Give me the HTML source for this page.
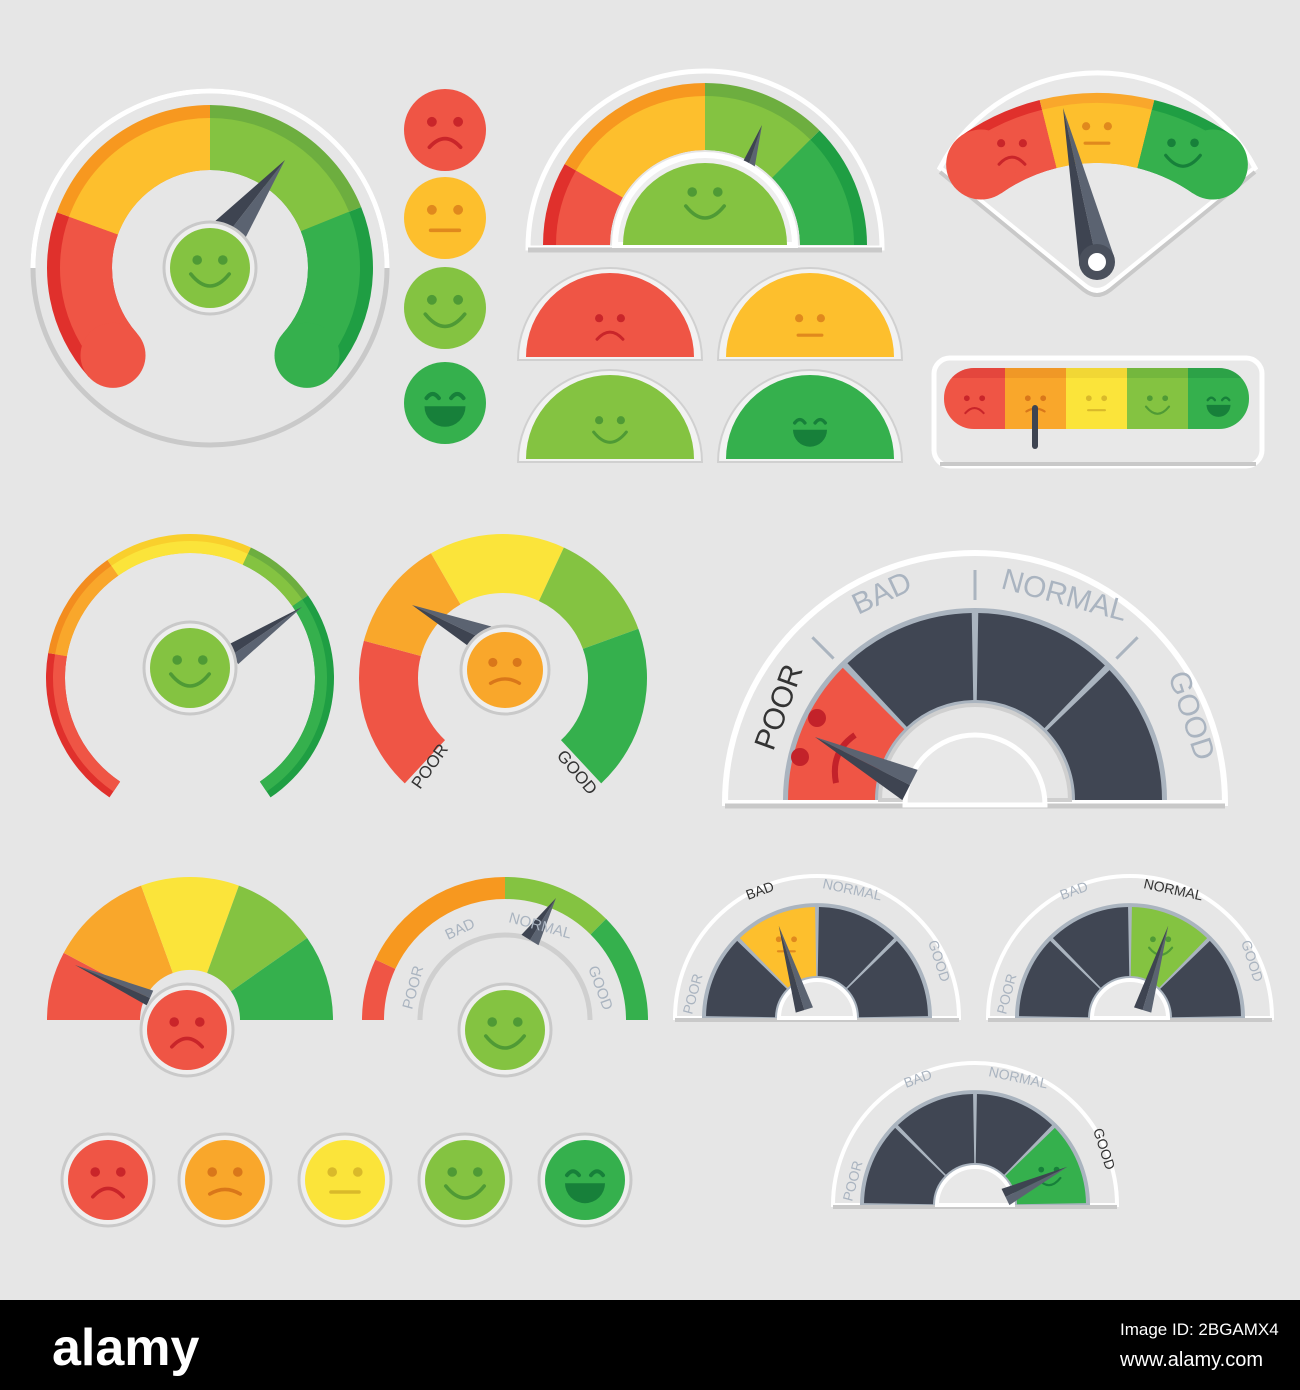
<!DOCTYPE html>
<html><head><meta charset="utf-8">
<style>
html,body{margin:0;padding:0;background:#e6e6e6;}
svg{display:block}
.lbl{font-family:"Liberation Sans Narrow","Liberation Sans",sans-serif;fill:#aab4c0}
</style></head>
<body>
<svg id="s" width="1300" height="1390" viewBox="0 0 1300 1390" xmlns="http://www.w3.org/2000/svg">
<defs><clipPath id="bcp"><rect x="944" y="368" width="305" height="61" rx="30"/></clipPath></defs>
<rect width="1300" height="1390" fill="#e6e6e6"/>
<g id="shapes"></g>
<g id="texts">
 <text class="lbl" font-size="30" fill="#333" style="fill:#333" transform="translate(773,752) rotate(-70)">POOR</text>
 <text class="lbl" font-size="30" transform="translate(858,615) rotate(-25)">BAD</text>
 <text class="lbl" font-size="30" transform="translate(1000,588) rotate(15)">NORMAL</text>
 <text class="lbl" font-size="30" transform="translate(1168,675) rotate(72)">GOOD</text>
 <text font-family="Liberation Sans Narrow,Liberation Sans,sans-serif" font-size="17" fill="#333" transform="translate(420,790) rotate(-55)">POOR</text>
 <text font-family="Liberation Sans Narrow,Liberation Sans,sans-serif" font-size="17" fill="#333" transform="translate(556,756) rotate(50)">GOOD</text>
 <text class="lbl" font-size="15" transform="translate(412,1010) rotate(-75)">POOR</text>
 <text class="lbl" font-size="15" transform="translate(448,940) rotate(-25)">BAD</text>
 <text class="lbl" font-size="15" transform="translate(508,922) rotate(15)">NORMAL</text>
 <text class="lbl" font-size="15" transform="translate(588,968) rotate(70)">GOOD</text>
 <text class="lbl" font-size="14" transform="translate(692,1015) rotate(-75)">POOR</text>
 <text class="lbl" font-size="14" fill="#333" style="fill:#333" transform="translate(748,900) rotate(-20)">BAD</text>
 <text class="lbl" font-size="14" transform="translate(822,888) rotate(12)">NORMAL</text>
 <text class="lbl" font-size="14" transform="translate(928,942) rotate(72)">GOOD</text>
 <text class="lbl" font-size="14" transform="translate(1006,1015) rotate(-75)">POOR</text>
 <text class="lbl" font-size="14" transform="translate(1062,900) rotate(-20)">BAD</text>
 <text class="lbl" font-size="14" fill="#333" style="fill:#333" transform="translate(1143,888) rotate(12)">NORMAL</text>
 <text class="lbl" font-size="14" transform="translate(1241,942) rotate(72)">GOOD</text>
 <text class="lbl" font-size="14" transform="translate(852,1202) rotate(-75)">POOR</text>
 <text class="lbl" font-size="14" transform="translate(906,1088) rotate(-20)">BAD</text>
 <text class="lbl" font-size="14" transform="translate(988,1076) rotate(12)">NORMAL</text>
 <text class="lbl" font-size="14" fill="#333" style="fill:#333" transform="translate(1093,1130) rotate(72)">GOOD</text>
</g>
<rect x="0" y="1300" width="1300" height="90" fill="#000"/>
<text x="52" y="1365" font-family="Liberation Sans Narrow,Liberation Sans,sans-serif" font-weight="bold" font-size="52" fill="#fff">alamy</text>
<text x="1120" y="1335" font-family="Liberation Sans Narrow,Liberation Sans,sans-serif" font-size="17" fill="#fff">Image ID: 2BGAMX4</text>
<text x="1120" y="1366" font-family="Liberation Sans Narrow,Liberation Sans,sans-serif" font-size="20" fill="#fff">www.alamy.com</text>
</svg>
<script>
var NS="http://www.w3.org/2000/svg",G=document.getElementById("shapes");
function el(t,a){var e=document.createElementNS(NS,t);for(var k in a)e.setAttribute(k,a[k]);G.appendChild(e);return e;}
function P(cx,cy,r,a){a=a*Math.PI/180;return [cx+r*Math.cos(a),cy-r*Math.sin(a)];}
function sec(cx,cy,r1,r2,a1,a2,f){var L=(a1-a2)>180?1:0,p1=P(cx,cy,r2,a1),p2=P(cx,cy,r2,a2),p3=P(cx,cy,r1,a2),p4=P(cx,cy,r1,a1);
 var d="M"+p1+" A"+r2+" "+r2+" 0 "+L+" 1 "+p2+" L"+p3+(r1>0?" A"+r1+" "+r1+" 0 "+L+" 0 "+p4:"")+" Z";return el("path",{d:d,fill:f});}
function circ(x,y,r,f,s,w){return el("circle",{cx:x,cy:y,r:r,fill:f||"none",stroke:s||"none","stroke-width":w||0});}
var C={r:"#ef5545",rd:"#e0302c",o:"#f9a72b",od:"#f38d1f",y:"#fdbf2d",yd:"#f7981f",yy:"#fbe43a",yyd:"#f9cf2c",lg:"#84c341",lgd:"#6dae3f",g:"#35b04d",gd:"#1f9e43"};
var dk={"#ef5545":"#c9252a","#f9a72b":"#d9771a","#fdbf2d":"#e0891d","#fbe43a":"#d9b92a","#84c341":"#4f9a35","#35b04d":"#17803a"};
function face(x,y,r,f,m,ring,nobg){
 if(ring){circ(x,y,r+6,"#eeeeee","#c9c9c9",3);}
 if(!nobg)circ(x,y,r,f);var d=dk[f]||"#555";
 if(m==4){
  el("path",{d:"M"+(x-r*.45)+" "+(y-r*.12)+" q"+r*.15+" -"+r*.2+" "+r*.3+" 0 M"+(x+r*.15)+" "+(y-r*.12)+" q"+r*.15+" -"+r*.2+" "+r*.3+" 0",stroke:d,"stroke-width":r*.1,fill:"none","stroke-linecap":"round"});
  el("path",{d:"M"+(x-r*.5)+" "+(y+r*.08)+" h"+r+" a"+r*.5+" "+r*.5+" 0 0 1 -"+r+" 0z",fill:d});return;}
 circ(x-r*.32,y-r*.2,r*.12,d);circ(x+r*.32,y-r*.2,r*.12,d);
 var m2;
 if(m==0)m2="M"+(x-r*.38)+" "+(y+r*.42)+" Q"+x+" "+(y)+" "+(x+r*.38)+" "+(y+r*.42);
 else if(m==1)m2="M"+(x-r*.35)+" "+(y+r*.3)+" h"+r*.7;
 else if(m==2)m2="M"+(x-r*.38)+" "+(y+r*.35)+" Q"+x+" "+(y+r*.12)+" "+(x+r*.38)+" "+(y+r*.35);
 else m2="M"+(x-r*.48)+" "+(y+r*.15)+" Q"+x+" "+(y+r*.75)+" "+(x+r*.48)+" "+(y+r*.15);
 el("path",{d:m2,stroke:d,"stroke-width":r*.09,fill:"none","stroke-linecap":"round"});}
function needle(x,y,tx,ty,w){var dx=tx-x,dy=ty-y,l=Math.hypot(dx,dy),nx=-dy/l*w/2,ny=dx/l*w/2;
 el("path",{d:"M"+(x+nx)+" "+(y+ny)+" L"+tx+" "+ty+" L"+x+" "+y+"Z",fill:"#5b6371"});
 el("path",{d:"M"+(x-nx)+" "+(y-ny)+" L"+tx+" "+ty+" L"+x+" "+y+"Z",fill:"#3e4451"});}
function band(cx,cy,r1,r2,segs,rim){segs.forEach(function(s){sec(cx,cy,r1,r2,s[0],s[1],s[3]||s[2]);if(rim)sec(cx,cy,r1,r2-rim,s[0],s[1],s[2]);});}

circ(210,268,177,"#e6e6e6","#c9c9c9",5);
el("path",{d:"M33 268 A177 177 0 0 1 387 268",fill:"none",stroke:"#fff","stroke-width":5});
band(210,268,98,163,[[222,160,C.r,C.rd],[160,90,C.y,C.yd],[90,22,C.lg,C.lgd],[22,-42,C.g,C.gd]],13);
var e1=P(210,268,130.5,222),e2=P(210,268,130.5,-42);circ(e1[0],e1[1],32.5,C.r);circ(e2[0],e2[1],32.5,C.g);
needle(215,250,285,160,44);
face(210,268,40,C.lg,3,1);
face(445,130,41,C.r,0);face(445,218,41,C.y,1);face(445,308,41,C.lg,3);face(445,403,41,C.g,4);
el("path",{d:"M528 248 A177 177 0 0 1 882 248Z",fill:"#e6e6e6",stroke:"#fff","stroke-width":5});
el("line",{x1:528,y1:250,x2:882,y2:250,stroke:"#c9c9c9","stroke-width":5});
band(705,245,95,162,[[180,150,C.r,C.rd],[150,90,C.y,C.yd],[90,45,C.lg,C.lgd],[45,0,C.g,C.gd]],13);
needle(735,205,762,125,26);
el("path",{d:"M615 245 A90 90 0 0 1 795 245Z",fill:"#eee",stroke:"#fff","stroke-width":6});
el("path",{d:"M623 245 A82 82 0 0 1 787 245Z",fill:C.lg});face(705,200,40,C.lg,3,0,1);
[[610,360,C.r,0],[810,360,C.y,1],[610,462,C.lg,3],[810,462,C.g,4]].forEach(function(h){
 el("path",{d:"M"+(h[0]-92)+" "+h[1]+" A92 92 0 0 1 "+(h[0]+92)+" "+h[1]+"Z",fill:"#f2f2f2",stroke:"#d0d0d0","stroke-width":2});
 el("path",{d:"M"+(h[0]-84)+" "+(h[1]-3)+" A84 84 0 0 1 "+(h[0]+84)+" "+(h[1]-3)+"Z",fill:h[2]});
 face(h[0],h[1]-35,34,h[2],h[3],0,1);});
el("path",{d:"M940 168 A178 178 0 0 1 1255 168 L1110 285 Q1097 296 1084 285Z",fill:"#e8e8e8",stroke:"#fff","stroke-width":5});
el("path",{d:"M1255 172 L1110 290 Q1097 300 1084 290 L940 172",fill:"none",stroke:"#c9c9c9","stroke-width":4});
band(1097,330,167,237,[[125,104,C.r,C.rd],[104,76,C.y,C.o],[76,55,C.g,C.gd]],10);
var q1=P(1097,330,202,125),q2=P(1097,330,202,55);circ(q1[0],q1[1],35,C.r);circ(q2[0],q2[1],35,C.g);
face(1012,150,34,C.r,0,0,1);face(1097,133,34,C.y,1,0,1);face(1183,150,36,C.g,3,0,1);
needle(1097,262,1063,108,36);circ(1097,262,18,"#4a505c");circ(1097,262,9,"#fff");
el("rect",{x:934,y:358,width:328,height:108,rx:16,fill:"#e8e8e8",stroke:"#fff","stroke-width":5});
el("line",{x1:940,y1:464,x2:1256,y2:464,stroke:"#c9c9c9","stroke-width":4});
var bc=[[C.r,0],[C.o,2],[C.yy,1],[C.lg,3],[C.g,4]];
bc.forEach(function(b,i){var x=944+i*61;
 el("rect",{x:x,y:368,width:61.5,height:61,fill:b[0],"clip-path":"url(#bcp)"});
 el("rect",{x:x,y:368,width:61.5,height:10,fill:dk[b[0]],opacity:.3,"clip-path":"url(#bcp)"});
 face(x+30.5,403,24,b[0],b[1],0,1);});
el("line",{x1:1035,y1:408,x2:1035,y2:446,stroke:"#3e4451","stroke-width":6,"stroke-linecap":"round"});
band(190,678,125,144,[[236,170,C.r,C.rd],[170,125,C.o,C.od],[125,65,C.yy,C.yyd],[65,35,C.lg,C.lgd],[35,-56,C.g,C.gd]],7);
needle(232,655,302,607,22);
face(190,668,40,C.lg,3,1);
band(503,678,85,144,[[227,165,C.r],[165,120,C.o],[120,65,C.yy],[65,20,C.lg],[20,-47,C.g]],0);
needle(485,640,412,605,30);
face(505,670,38,C.o,2,1);
el("path",{d:"M725 803 A250 250 0 0 1 1225 803Z",fill:"#e6e6e6",stroke:"#fff","stroke-width":6});
el("line",{x1:725,y1:806,x2:1225,y2:806,stroke:"#c9c9c9","stroke-width":5});
sec(975,800,95,192,180,0,"#aab4bf");
sec(975,800,100,187,180,135,C.r);sec(975,800,100,187,133,91,"#404653");sec(975,800,100,187,89,46,"#404653");sec(975,800,100,187,44,0,"#404653");
[135,90,45].forEach(function(a){var p=P(975,800,200,a),p2=P(975,800,230,a);el("line",{x1:p[0],y1:p[1],x2:p2[0],y2:p2[1],stroke:"#aab4bf","stroke-width":3});});
el("path",{d:"M880 800 A95 95 0 0 1 1070 800Z",fill:"#e6e6e6",stroke:"#cfcfcf","stroke-width":4});
el("path",{d:"M905 805 A70 70 0 0 1 1045 805Z",fill:"#e8e8e8",stroke:"#fff","stroke-width":5});
circ(817,718,9,"#c3222a");circ(800,757,9,"#c3222a");
el("path",{d:"M855 735 Q830 752 836 783",stroke:"#c3222a","stroke-width":6,fill:"none"});
needle(910,785,815,737,34);
band(190,1020,50,143,[[180,152,C.r],[152,110,C.o],[110,70,C.yy],[70,35,C.lg],[35,0,C.g]],0);
needle(150,998,75,965,16);
face(187,1030,40,C.r,0,1);
band(505,1020,121,143,[[180,155,C.r],[155,90,C.y,C.yd],[90,45,C.lg],[45,0,C.g]],0);
el("path",{d:"M385 1020 A120 120 0 0 1 625 1020Z",fill:"#e6e6e6"});
el("path",{d:"M420 1020 A85 85 0 0 1 590 1020",fill:"none",stroke:"#cfcfcf","stroke-width":5});
needle(530,940,556,898,20);
face(505,1030,40,C.lg,3,1);
function small(cx,cy,hi,hc,m){
 el("path",{d:"M"+(cx-142)+" "+cy+" A142 142 0 0 1 "+(cx+142)+" "+cy+"Z",fill:"#e6e6e6",stroke:"#fff","stroke-width":4});
 el("line",{x1:cx-142,y1:cy+2,x2:cx+142,y2:cy+2,stroke:"#c9c9c9","stroke-width":4});
 sec(cx,cy,38,115,180,0,"#aab4bf");
 for(var i=0;i<4;i++){sec(cx,cy,42,111,180-45*i-1,135-45*i+1,i==hi?hc:"#404653");}
 el("path",{d:"M"+(cx-38)+" "+cy+" A38 38 0 0 1 "+(cx+38)+" "+cy+"Z",fill:"#e8e8e8",stroke:"#fff","stroke-width":4});
 var ma=180-45*hi-22.5,f=P(cx,cy,80,ma);face(f[0],f[1],24,hc,m,0,1);
 var t=P(cx,cy,100,ma);needle(cx+(t[0]-cx)*.33,cy-8,t[0],t[1],18);}
small(817,1018,1,C.y,1);small(1130,1018,2,C.lg,3);small(975,1205,3,C.g,3);
[[108,C.r,0],[225,C.o,2],[345,C.yy,1],[465,C.lg,3],[585,C.g,4]].forEach(function(b){face(b[0],1180,40,b[1],b[2],1);});
</script>
</body></html>
